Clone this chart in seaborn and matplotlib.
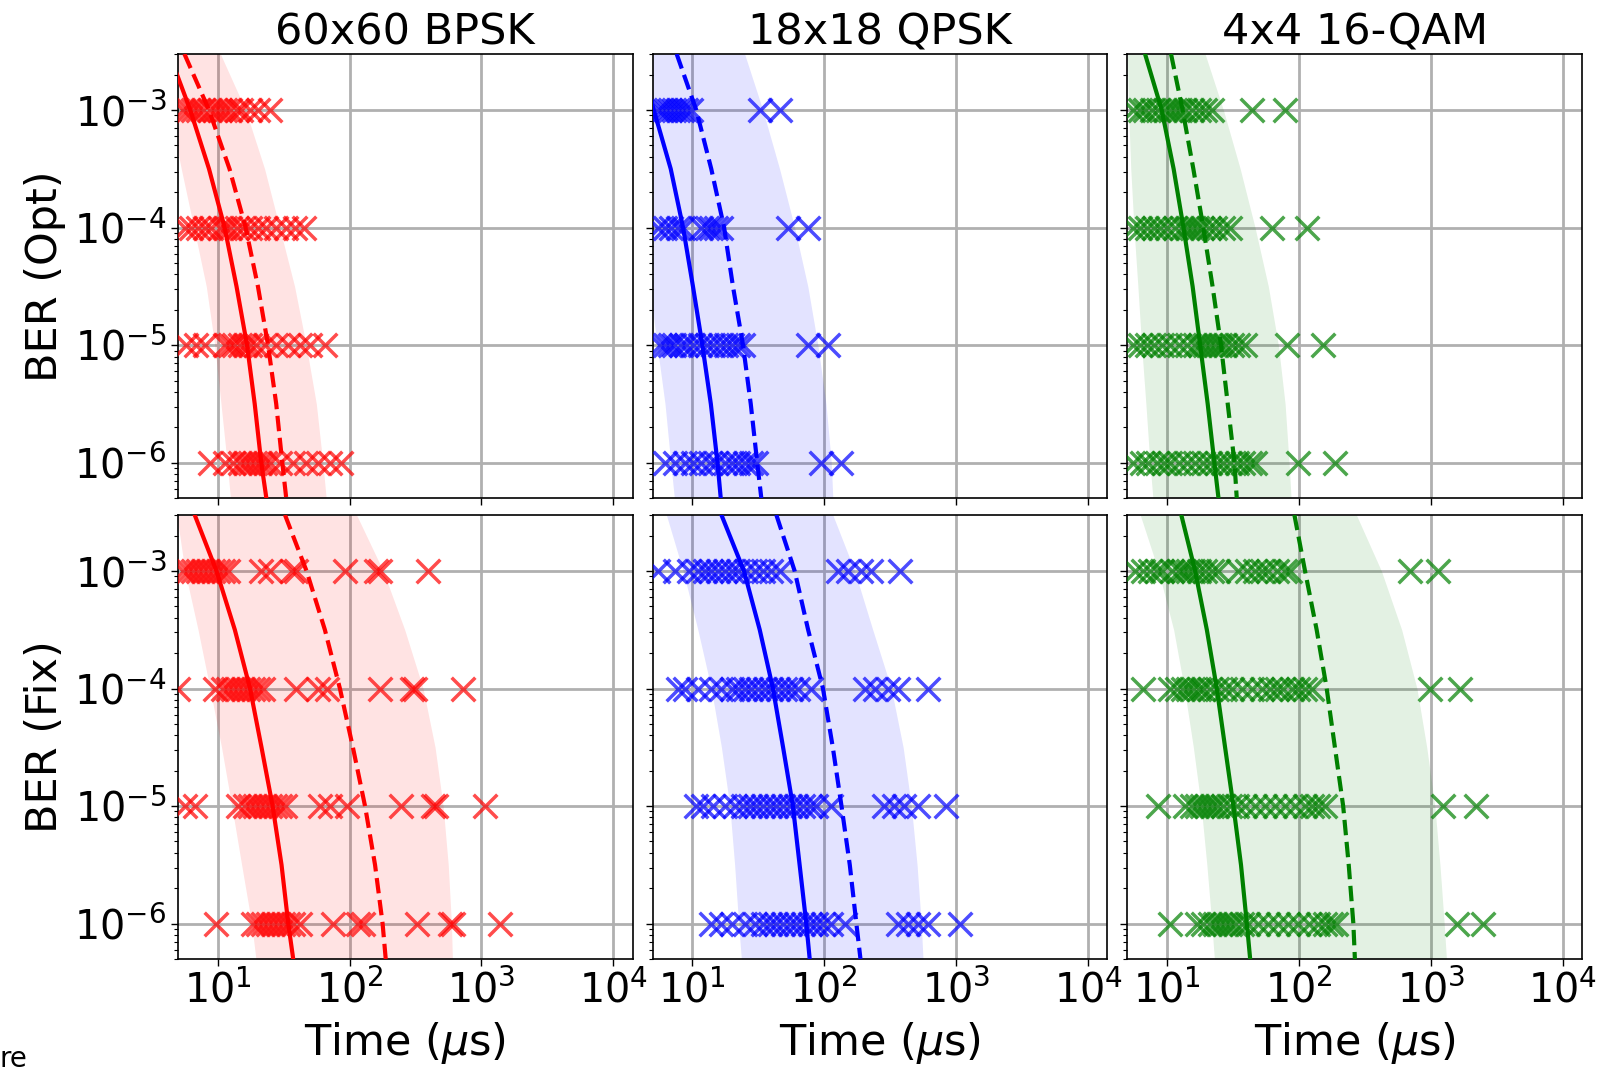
import matplotlib
matplotlib.use("Agg")
import matplotlib.pyplot as plt
import seaborn as sns

# ---------------- data ----------------
LEVELS = [1e-3, 1e-4, 1e-5, 1e-6]
CURVE_BER = [3e-3, 1e-3, 3.16e-4, 1e-4, 3.16e-5, 1e-5, 3.16e-6, 1e-6, 5e-7]

TITLES = ["60x60 BPSK", "18x18 QPSK", "4x4 16-QAM"]
ROW_LABELS = ["BER (Opt)", "BER (Fix)"]
COLORS = ["red", "blue", "green"]
X_TICKS = [10, 100, 1000, 10000]
Y_TICKS = [1e-3, 1e-4, 1e-5, 1e-6]

# ---- Opt, 60x60 BPSK (times in us, one list per BER level) ----
opt_bpsk_1e3 = [5.47, 5.96, 6.5, 7.1, 7.75, 8.7, 9.5, 10.4, 11.3, 12.3, 13.9, 15.1, 17.5, 20.2, 24.8]
opt_bpsk_1e4 = [5.62, 6.3, 7.1, 7.96, 8.95, 10.4, 11.3, 12.3, 13.9, 15.6, 17.5, 20.2, 23.4, 27.8, 33.1, 38.3, 45.5]
opt_bpsk_1e5 = [5.8, 6.9, 7.96, 11.3, 12.3, 13.4, 14.7, 16.0, 17.5, 19.6, 22.7, 27.8, 34.0, 41.8, 49.8, 64.6]
opt_bpsk_1e6 = [8.7, 11.3, 13.1, 14.7, 16.0, 17.5, 19.1, 20.8, 22.7, 24.8, 29.5, 37.2, 46.9, 57.5, 70.6, 86.0]
opt_bpsk_solid = [4.3, 6.2, 8.6, 11.3, 13.9, 16.7, 19.1, 21.4, 23.4]
opt_bpsk_dash = [5.6, 8.6, 12.3, 16.3, 20.2, 24.1, 27.8, 30.9, 33.1]
opt_bpsk_lo = [3.4, 4.3, 5.3, 6.6, 8.2, 9.5, 10.6, 11.8, 12.5]
opt_bpsk_hi = [10.5, 16.3, 22.7, 29.5, 38.3, 46.9, 56.0, 62.7, 66.5]

# ---- Opt, 18x18 QPSK ----
opt_qpsk_1e3 = [5.49, 5.89, 6.3, 6.77, 7.3, 7.8, 8.35, 9.0, 9.8, 32.4, 45.8]
opt_qpsk_1e4 = [5.49, 6.17, 6.93, 7.8, 8.5, 11.7, 12.8, 13.9, 15.2, 16.6, 53.0, 75.0]
opt_qpsk_1e5 = [5.65, 6.17, 6.73, 7.3, 8.25, 9.0, 10.1, 11.4, 12.8, 14.3, 16.1, 18.1, 19.8, 22.2, 24.2, 75.0, 106.0]
opt_qpsk_1e6 = [6.17, 7.35, 8.75, 10.1, 11.7, 13.5, 15.2, 17.6, 19.8, 22.2, 24.9, 28.0, 30.5, 95.0, 134.0]
opt_qpsk_solid = [3.9, 5.1, 6.85, 8.5, 10.1, 11.9, 13.8, 15.5, 16.4]
opt_qpsk_dash = [7.6, 10.7, 13.9, 17.4, 20.3, 24.2, 27.7, 31.0, 33.3]
opt_qpsk_lo = [1.5, 2.2, 3.0, 3.98, 4.75, 5.4, 6.2, 6.85, 7.3]
opt_qpsk_hi = [24.9, 34.2, 45.8, 59.6, 75.0, 89.4, 103.0, 113.0, 116.0]

# ---- Opt, 4x4 16-QAM ----
opt_qam_1e3 = [5.55, 6.25, 6.8, 7.65, 8.6, 9.66, 10.5, 11.5, 12.5, 13.7, 15.4, 17.3, 19.4, 21.8, 43.9, 78.4]
opt_qam_1e4 = [5.55, 6.25, 7.0, 7.9, 8.85, 9.94, 11.5, 12.9, 14.1, 15.4, 16.8, 18.3, 20.6, 23.1, 26.7, 30.0, 62.0, 114.0]
opt_qam_1e5 = [5.55, 6.25, 7.0, 7.9, 9.1, 10.5, 12.2, 14.1, 16.3, 17.8, 19.4, 21.2, 23.1, 25.2, 27.5, 30.9, 34.6, 39.0, 81.0, 153.0]
opt_qam_1e6 = [5.55, 6.4, 7.2, 8.35, 9.4, 10.5, 12.2, 14.1, 16.3, 18.8, 21.2, 23.8, 26.7, 30.0, 33.7, 37.8, 42.6, 46.4, 99.0, 187.0]
opt_qam_solid = [6.8, 9.1, 11.2, 13.3, 15.6, 17.8, 20.3, 22.8, 24.5]
opt_qam_dash = [10.7, 13.1, 15.8, 18.8, 22.1, 25.6, 28.8, 32.4, 33.7]
opt_qam_lo = [5.0, 5.1, 5.3, 5.6, 6.0, 6.4, 6.9, 7.4, 7.8]
opt_qam_hi = [19.4, 26.7, 35.8, 46.4, 58.5, 69.7, 78.4, 84.0, 87.0]

# ---- Fix, 60x60 BPSK ----
fix_bpsk_1e3 = [5.49, 6.0, 6.55, 7.1, 7.8, 8.5, 9.3, 10.1, 11.0, 12.0, 21.5, 24.9, 36.3, 39.6, 92.0, 159.0, 169.0, 394.0]
fix_bpsk_1e4 = [5.0, 9.5, 11.0, 12.0, 13.1, 14.3, 15.6, 17.1, 18.6, 20.3, 22.2, 39.6, 57.8, 67.0, 169.0, 295.0, 311.0, 728.0]
fix_bpsk_1e5 = [5.65, 6.7, 14.3, 16.1, 17.6, 19.2, 20.9, 22.8, 24.9, 27.2, 29.7, 32.4, 59.6, 71.0, 95.0, 247.0, 430.0, 456.0, 1060.0]
fix_bpsk_1e6 = [9.8, 18.6, 20.3, 22.2, 24.2, 26.4, 28.8, 31.4, 34.3, 37.4, 42.0, 75.0, 116.0, 127.0, 322.0, 573.0, 607.0, 1370.0]
fix_bpsk_solid = [6.7, 9.8, 13.5, 17.6, 21.5, 26.1, 30.5, 34.3, 37.4]
fix_bpsk_dash = [32.4, 47.2, 65.0, 84.5, 106.0, 131.0, 156.0, 178.0, 188.0]
fix_bpsk_lo = [4.9, 5.65, 7.1, 8.75, 10.7, 12.8, 15.2, 18.1, 19.5]
fix_bpsk_hi = [113.0, 180.0, 262.0, 361.0, 445.0, 512.0, 560.0, 592.0, 602.0]

# ---- Fix, 18x18 QPSK ----
fix_qpsk_1e3 = [5.49, 7.35, 9.5, 11.0, 12.4, 13.9, 15.6, 17.6, 19.8, 22.2, 25.6, 29.7, 34.3, 39.6, 45.8, 127.0, 151.0, 190.0, 226.0, 372.0]
fix_qpsk_1e4 = [7.8, 8.75, 11.0, 13.9, 16.6, 19.8, 22.2, 24.9, 28.0, 31.4, 35.3, 39.6, 44.6, 50.0, 56.2, 63.2, 79.6, 203.0, 241.0, 303.0, 362.0, 610.0]
fix_qpsk_1e5 = [10.7, 12.0, 14.3, 17.6, 20.9, 24.2, 27.2, 30.5, 34.3, 38.5, 43.3, 48.7, 54.7, 61.5, 69.0, 77.5, 87.0, 113.0, 285.0, 340.0, 404.0, 510.0, 838.0]
fix_qpsk_1e6 = [13.9, 16.6, 19.8, 24.9, 29.7, 34.3, 38.5, 43.3, 48.7, 54.7, 61.5, 69.0, 77.5, 87.0, 97.7, 113.0, 143.0, 362.0, 431.0, 512.0, 610.0, 1060.0]
fix_qpsk_solid = [16.6, 24.6, 32.4, 40.8, 48.7, 57.8, 65.0, 73.0, 77.5]
fix_qpsk_dash = [43.3, 59.6, 75.4, 97.7, 116.0, 135.0, 156.0, 175.0, 188.0]
fix_qpsk_lo = [6.35, 8.5, 11.0, 13.9, 16.6, 19.2, 20.9, 22.4, 23.5]
fix_qpsk_hi = [116.0, 170.0, 233.0, 322.0, 396.0, 457.0, 505.0, 543.0, 560.0]

# ---- Fix, 4x4 16-QAM ----
fix_qam_1e3 = [5.72, 6.6, 7.44, 8.35, 9.1, 10.8, 12.2, 13.3, 14.5, 15.8, 17.3, 19.4, 21.8, 24.5, 34.6, 40.0, 46.4, 52.0, 58.5, 67.6, 78.4, 85.5, 690.0, 1130.0]
fix_qam_1e4 = [6.6, 10.5, 11.8, 13.3, 14.5, 15.8, 17.3, 18.8, 21.2, 23.8, 27.5, 30.9, 36.8, 43.9, 52.0, 60.3, 67.6, 75.9, 88.0, 98.9, 111.0, 125.0, 982.0, 1665.0]
fix_qam_1e5 = [8.6, 13.7, 15.4, 16.8, 18.3, 20.0, 21.8, 23.8, 26.7, 30.0, 33.7, 39.0, 46.4, 55.2, 65.6, 78.4, 93.0, 111.0, 125.0, 140.0, 157.0, 1236.0, 2210.0]
fix_qam_1e6 = [10.5, 16.8, 18.8, 21.2, 23.1, 25.2, 27.5, 30.0, 32.7, 36.8, 41.3, 49.2, 58.5, 69.7, 83.0, 98.9, 118.0, 140.0, 157.0, 176.0, 192.0, 1570.0, 2480.0]
fix_qam_solid = [12.8, 16.3, 20.0, 23.8, 27.5, 31.8, 36.3, 40.2, 42.6]
fix_qam_dash = [92.2, 111.0, 136.0, 162.0, 187.0, 216.0, 238.0, 258.0, 265.0]
fix_qam_lo = [6.25, 8.6, 11.2, 13.5, 15.8, 18.1, 20.0, 21.8, 22.8]
fix_qam_hi = [272.0, 421.0, 600.0, 783.0, 929.0, 1070.0, 1170.0, 1260.0, 1310.0]

PANELS = [
    [
        ([opt_bpsk_1e3, opt_bpsk_1e4, opt_bpsk_1e5, opt_bpsk_1e6], opt_bpsk_solid, opt_bpsk_dash, opt_bpsk_lo, opt_bpsk_hi),
        ([opt_qpsk_1e3, opt_qpsk_1e4, opt_qpsk_1e5, opt_qpsk_1e6], opt_qpsk_solid, opt_qpsk_dash, opt_qpsk_lo, opt_qpsk_hi),
        ([opt_qam_1e3, opt_qam_1e4, opt_qam_1e5, opt_qam_1e6], opt_qam_solid, opt_qam_dash, opt_qam_lo, opt_qam_hi),
    ],
    [
        ([fix_bpsk_1e3, fix_bpsk_1e4, fix_bpsk_1e5, fix_bpsk_1e6], fix_bpsk_solid, fix_bpsk_dash, fix_bpsk_lo, fix_bpsk_hi),
        ([fix_qpsk_1e3, fix_qpsk_1e4, fix_qpsk_1e5, fix_qpsk_1e6], fix_qpsk_solid, fix_qpsk_dash, fix_qpsk_lo, fix_qpsk_hi),
        ([fix_qam_1e3, fix_qam_1e4, fix_qam_1e5, fix_qam_1e6], fix_qam_solid, fix_qam_dash, fix_qam_lo, fix_qam_hi),
    ],
]

# ---------------- style ----------------
sns.set_theme(style="ticks")
plt.rcParams["font.family"] = ["DejaVu Sans"]
plt.rcParams["mathtext.fontset"] = "dejavusans"
for key in ["text.color", "axes.labelcolor", "xtick.color", "ytick.color", "axes.edgecolor"]:
    plt.rcParams[key] = "black"

TICK_FS = 28.5
LABEL_FS = 31

fig, axes = plt.subplots(2, 3, figsize=(16.03, 10.71), dpi=100, sharex=True, sharey=True)
fig.subplots_adjust(left=0.111, right=0.987, top=0.9496, bottom=0.1046, wspace=0.044, hspace=0.038)

for r in range(2):
    for c in range(3):
        ax = axes[r, c]
        col = COLORS[c]
        rows, solid, dash, lo, hi = PANELS[r][c]
        ax.set_xscale("log")
        ax.set_yscale("log")
        ax.fill_betweenx(CURVE_BER, lo, hi, color=col, alpha=0.11, lw=0, zorder=1)
        for lvl, times in zip(LEVELS, rows):
            sns.scatterplot(x=times, y=[lvl] * len(times), marker="x", color=col,
                            s=290, linewidth=2.5, alpha=0.7, ax=ax, zorder=3, legend=False)
        sns.lineplot(x=solid, y=CURVE_BER, orient="y", sort=False, estimator=None,
                     color=col, lw=3.0, ax=ax, zorder=4, legend=False)
        sns.lineplot(x=dash, y=CURVE_BER, orient="y", sort=False, estimator=None,
                     color=col, lw=3.0, ls="--", ax=ax, zorder=4, legend=False)
        ax.set_xlim(5, 1.4e4)
        ax.set_ylim(5e-7, 3e-3)
        ax.set_xticks(X_TICKS)
        ax.set_yticks(Y_TICKS)
        ax.grid(True, which="major", color="#b0b0b0", lw=2, zorder=0)
        ax.set_axisbelow(True)
        for sp in ax.spines.values():
            sp.set_color("black")
            sp.set_linewidth(1.2)
        ax.tick_params(which="major", length=5, width=1.0, color="black", labelsize=TICK_FS)
        ax.tick_params(which="minor", length=3, width=0.8, color="black")
        ax.set_xlabel("")
        ax.set_ylabel("")
        if r == 0:
            ax.set_title(TITLES[c], fontsize=LABEL_FS, pad=6)
        if r == 1:
            ax.set_xlabel(r"Time ($\mu$s)", fontsize=LABEL_FS, labelpad=6)
        if c == 0:
            ax.set_ylabel(ROW_LABELS[r], fontsize=LABEL_FS, labelpad=6)

fig.text(0.0, 0.004, "re", fontsize=20, ha="left", va="baseline")
fig.savefig("out.png", dpi=100)
